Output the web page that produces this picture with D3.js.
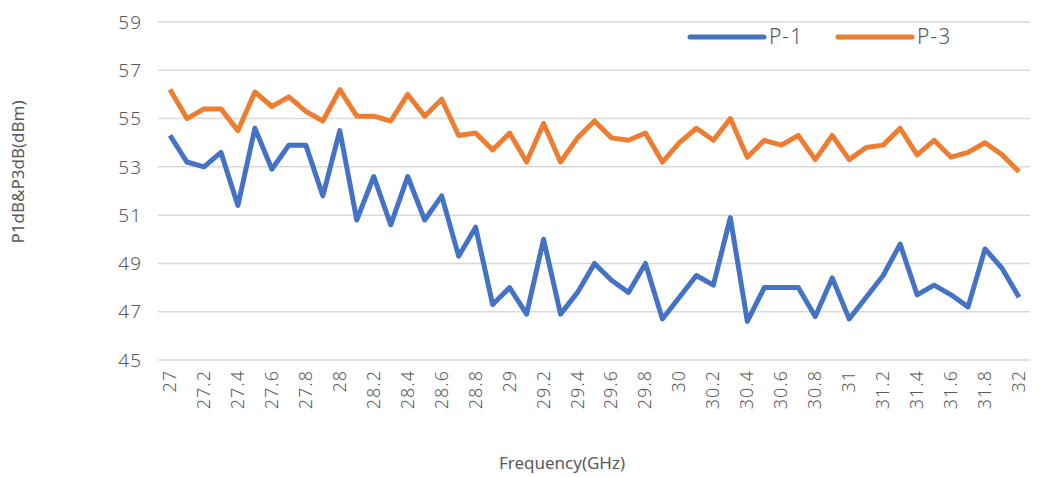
<!DOCTYPE html>
<html><head><meta charset="utf-8">
<script src="https://cdn.jsdelivr.net/npm/d3@7"></script>
<style>body{margin:0;background:#fff}text{font-family:"Noto Sans",sans-serif;fill:#595959}.tk{font-weight:300;letter-spacing:1px}</style>
</head><body><svg id="c" width="1052" height="477"></svg>
<script>
// frequencies 27.0 .. 32.0 step 0.1
var freqs = ["27","27.1","27.2","27.3","27.4","27.5","27.6","27.7","27.8","27.9",
  "28","28.1","28.2","28.3","28.4","28.5","28.6","28.7","28.8","28.9",
  "29","29.1","29.2","29.3","29.4","29.5","29.6","29.7","29.8","29.9",
  "30","30.1","30.2","30.3","30.4","30.5","30.6","30.7","30.8","30.9",
  "31","31.1","31.2","31.3","31.4","31.5","31.6","31.7","31.8","31.9","32"];
var p1 = [54.3,53.2,53.0,53.6,51.4,54.6,52.9,53.9,53.9,51.8,
  54.5,50.8,52.6,50.6,52.6,50.8,51.8,49.3,50.5,47.3,
  48.0,46.9,50.0,46.9,47.8,49.0,48.3,47.8,49.0,46.7,
  47.6,48.5,48.1,50.9,46.6,48.0,48.0,48.0,46.8,48.4,
  46.7,47.6,48.5,49.8,47.7,48.1,47.7,47.2,49.6,48.8,47.6];
var p3 = [56.2,55.0,55.4,55.4,54.5,56.1,55.5,55.9,55.3,54.9,
  56.2,55.1,55.1,54.9,56.0,55.1,55.8,54.3,54.4,53.7,
  54.4,53.2,54.8,53.2,54.2,54.9,54.2,54.1,54.4,53.2,
  54.0,54.6,54.1,55.0,53.4,54.1,53.9,54.3,53.3,54.3,
  53.3,53.8,53.9,54.6,53.5,54.1,53.4,53.6,54.0,53.5,52.8];
var yTicks = [45,47,49,51,53,55,57,59];
var tickLabels = freqs.filter(function(d, i){ return i % 2 === 0; });

var svg = d3.select("#c");
var x = d3.scalePoint().domain(freqs).range([170, 1019]);
var y = d3.scaleLinear().domain([45, 59]).range([360, 22]);

// gridlines
svg.append("g").selectAll("line").data(yTicks).join("line")
  .attr("x1", 158).attr("x2", 1030)
  .attr("y1", function(d){ return y(d); }).attr("y2", function(d){ return y(d); })
  .attr("stroke", "#d9d9d9").attr("stroke-width", 1.5);

// y labels
svg.append("g").selectAll("text").data(yTicks).join("text").attr("class", "tk")
  .attr("x", 142).attr("y", function(d){ return y(d); }).attr("dy", "0.35em")
  .attr("text-anchor", "end").style("font-size", "19px").text(function(d){ return d; });

// x labels, rotated
svg.append("g").selectAll("text").data(tickLabels).join("text").attr("class", "tk")
  .attr("transform", function(d){ return "translate(" + (x(d) + 6) + ",370) rotate(-90)"; })
  .attr("text-anchor", "end").style("font-size", "18px").text(function(d){ return d; });

var line = d3.line().x(function(d, i){ return x(freqs[i]); }).y(function(d){ return y(d); });
svg.append("path").datum(p1).attr("d", line).attr("fill", "none")
  .attr("stroke", "#4472c4").attr("stroke-width", 5).attr("stroke-linejoin", "round");
svg.append("path").datum(p3).attr("d", line).attr("fill", "none")
  .attr("stroke", "#ed7d31").attr("stroke-width", 5).attr("stroke-linejoin", "round");

// legend
var legend = [["P-1", "#4472c4", 690], ["P-3", "#ed7d31", 838]];
legend.forEach(function(l){
  svg.append("line").attr("x1", l[2]).attr("x2", l[2] + 74).attr("y1", 37).attr("y2", 37)
    .attr("stroke", l[1]).attr("stroke-width", 5).attr("stroke-linecap", "round");
  svg.append("text").attr("class", "tk").attr("x", l[2] + 79).attr("y", 37).attr("dy", "0.35em")
    .style("font-size", "21px").text(l[0]);
});

// axis titles
svg.append("text").attr("transform", "translate(24,172) rotate(-90)")
  .attr("text-anchor", "middle").style("font-size", "17px").text("P1dB&P3dB(dBm)");
svg.append("text").attr("x", 562).attr("y", 469).attr("text-anchor", "middle")
  .style("font-size", "17px").text("Frequency(GHz)");
</script></body></html>
